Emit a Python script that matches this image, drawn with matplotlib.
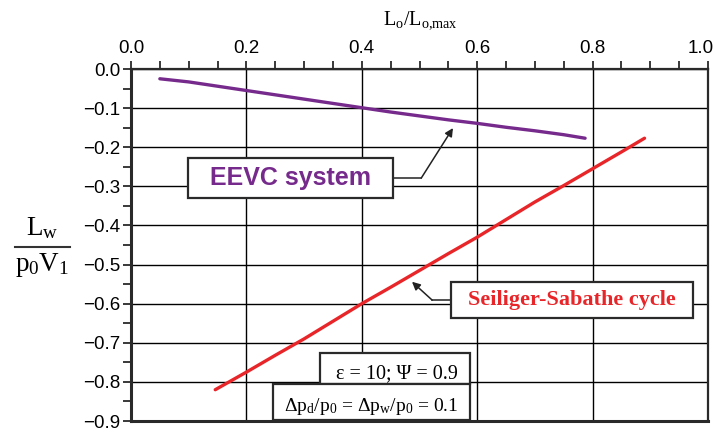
import matplotlib
matplotlib.use('Agg')
import matplotlib.pyplot as plt
import matplotlib.transforms as mtransforms
from matplotlib.ticker import MultipleLocator
from matplotlib.lines import Line2D
from matplotlib.patches import Rectangle

# datos
eevc_x = [0.05, 0.10, 0.15, 0.20, 0.25, 0.30, 0.35, 0.40, 0.45, 0.50, 0.55, 0.60, 0.65, 0.70, 0.75, 0.787]
eevc_y = [-0.025, -0.033, -0.044, -0.055, -0.066, -0.077, -0.088, -0.099, -0.110, -0.120, -0.130, -0.139, -0.149, -0.158, -0.168, -0.177]

sab_x = [0.146, 0.20, 0.25, 0.30, 0.35, 0.40, 0.45, 0.50, 0.55, 0.60, 0.65, 0.70, 0.75, 0.80, 0.85, 0.89]
sab_y = [-0.820, -0.775, -0.732, -0.690, -0.645, -0.600, -0.558, -0.515, -0.472, -0.430, -0.385, -0.340, -0.298, -0.255, -0.212, -0.177]

xticks = [0.0, 0.2, 0.4, 0.6, 0.8, 1.0]
xticklabels = ['0.0', '0.2', '0.4', '0.6', '0.8', '1.0']
yticks = [0.0, -0.1, -0.2, -0.3, -0.4, -0.5, -0.6, -0.7, -0.8, -0.9]
yticklabels = ['0.0', '\u22120.1', '\u22120.2', '\u22120.3', '\u22120.4',
               '\u22120.5', '\u22120.6', '\u22120.7', '\u22120.8', '\u22120.9']

color_eevc = '#762A8C'
color_sab = '#E8262A'
color_borde = '#2a2a2a'

plt.rcParams['font.family'] = ['Liberation Sans', 'DejaVu Sans']
plt.rcParams['mathtext.fontset'] = 'custom'
plt.rcParams['mathtext.rm'] = 'Liberation Serif'
plt.rcParams['mathtext.it'] = 'Liberation Serif'

fig = plt.figure(figsize=(7.15, 4.32), dpi=100)
ax = fig.add_axes([131 / 715, 1 - 421 / 432, 577 / 715, 352 / 432])

ax.plot(eevc_x, eevc_y, color=color_eevc, linewidth=2.4, solid_capstyle='round', zorder=3)
ax.plot(sab_x, sab_y, color=color_sab, linewidth=2.4, solid_capstyle='round', zorder=3)

ax.set_xlim(0, 1.0)
ax.set_ylim(-0.9, 0.0)
ax.xaxis.tick_top()
ax.set_xticks(xticks)
ax.set_xticklabels(xticklabels)
ax.set_yticks(yticks)
ax.set_yticklabels(yticklabels)
ax.xaxis.set_minor_locator(MultipleLocator(0.05))
ax.yaxis.set_minor_locator(MultipleLocator(0.05))
ax.tick_params(which='both', direction='out', length=6, width=1.3, labelsize=13.5, color=color_borde)
ax.tick_params(axis='x', which='both', top=True, bottom=False, pad=3)
ax.tick_params(axis='y', which='both', left=True, right=False, pad=1.5)
ax.grid(True, which='major', color='black', linewidth=1.0)
ax.set_axisbelow(True)
for lado, w in [('left', 2.2), ('bottom', 2.2), ('top', 1.6), ('right', 1.6)]:
    ax.spines[lado].set_linewidth(w)
    ax.spines[lado].set_color(color_borde)

# el ultimo rotulo "1.0" va algo a la izquierda, como en el original
ultimo = ax.get_xticklabels()[-1]
ultimo.set_transform(ultimo.get_transform() +
                     mtransforms.ScaledTranslation(-7 / 100, 0, fig.dpi_scale_trans))

# titulo eje x (arriba)
fig.text(420 / 715, 1 - 20 / 432, r'L$_\mathrm{o}$/L$_\mathrm{o{,}max}$', ha='center', va='center',
         fontsize=14.5, family='Liberation Serif')

# etiqueta eje y como fraccion
fig.text(42 / 715, 1 - 228 / 432, r'L$_\mathrm{w}$', ha='center', va='center', fontsize=19.5,
         family='Liberation Serif')
fig.text(42 / 715, 1 - 265 / 432, r'p$_0$V$_1$', ha='center', va='center', fontsize=19.5,
         family='Liberation Serif')
fig.add_artist(Line2D([15 / 715, 70 / 715], [1 - 246.5 / 432, 1 - 246.5 / 432],
                      color='#333333', linewidth=1.5, transform=fig.transFigure))


def caja(x0, x1, y0, y1):
    ax.add_patch(Rectangle((x0, y0), x1 - x0, y1 - y0, facecolor='white',
                           edgecolor=color_borde, linewidth=1.6, zorder=5))


flecha = dict(arrowstyle='-|>', color='#222222', lw=1.1, mutation_scale=12, shrinkA=0, shrinkB=0)

# EEVC system
ax.annotate('', xy=(0.558, -0.151), xytext=(0.503, -0.279), arrowprops=flecha, zorder=4)
ax.plot([0.45, 0.503], [-0.279, -0.279], color='#222222', lw=1.1, zorder=4)
caja(0.0988, 0.454, -0.33, -0.2276)
ax.text(0.276, -0.279, 'EEVC system', color=color_eevc, fontsize=18, fontweight='bold',
        ha='center', va='center', zorder=6)

# Seiliger-Sabathe cycle
ax.annotate('', xy=(0.487, -0.544), xytext=(0.522, -0.591), arrowprops=flecha, zorder=4)
ax.plot([0.522, 0.56], [-0.591, -0.591], color='#222222', lw=1.1, zorder=4)
caja(0.5546, 0.974, -0.6368, -0.5447)
ax.text(0.764, -0.591, 'Seiliger-Sabathe cycle', color=color_sab, fontsize=16, fontweight='bold',
        family='Liberation Serif', ha='center', va='center', zorder=6)

# cajas de parametros
caja(0.3276, 0.5875, -0.8056, -0.7263)
caja(0.2461, 0.5875, -0.8977, -0.8056)
ax.text(0.567, -0.78, '\u03b5 = 10; \u03a8 = 0.9', fontsize=14.5, family='Liberation Serif',
        ha='right', va='center', zorder=6)
ax.text(0.567, -0.862, '\u0394p$_\\mathrm{d}$/p$_0$ = \u0394p$_\\mathrm{w}$/p$_0$ = 0.1',
        fontsize=14, family='Liberation Serif', ha='right', va='center', zorder=6)

fig.savefig('out.png', dpi=100)
